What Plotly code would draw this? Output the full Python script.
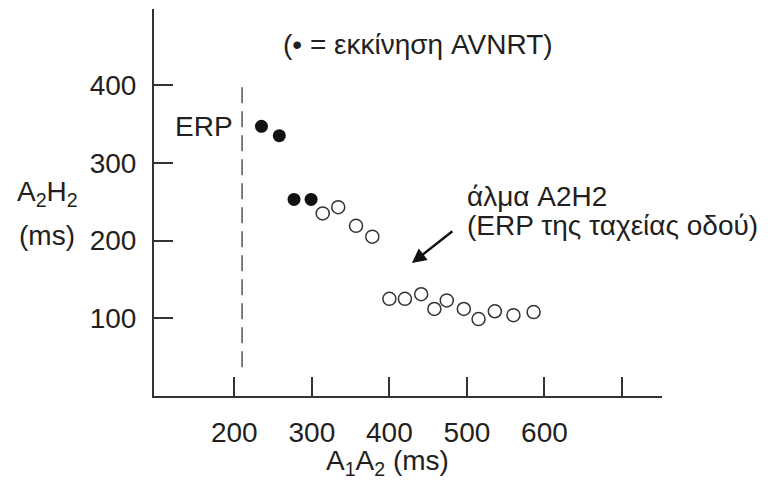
import plotly.graph_objects as go

# Data
a1a2_avnrt = [235, 258, 277, 299]
a2h2_avnrt = [347, 335, 253, 253]

a1a2_no = [314, 334, 357, 378, 400, 420, 441, 458, 474, 496, 515, 536, 560, 586]
a2h2_no = [235, 243, 219, 205, 125, 125, 131, 112, 123, 112, 99, 109, 104, 108]

erp_x = 210
x_ticks = [200, 300, 400, 500, 600, 700]
x_ticklabels = ["200", "300", "400", "500", "600", ""]
y_ticks = [100, 200, 300, 400]
y_ticklabels = ["100", "200", "300", "400"]

FONT = "Liberation Sans, Arial, Helvetica, sans-serif"
TXT = "#231f20"
AX = "#333333"
FS = 28

fig = go.Figure()
fig.add_trace(go.Scatter(
    x=a1a2_avnrt, y=a2h2_avnrt, mode="markers",
    marker=dict(size=13, color="#111111", line=dict(width=0)),
    showlegend=False, cliponaxis=False))
fig.add_trace(go.Scatter(
    x=a1a2_no, y=a2h2_no, mode="markers",
    marker=dict(size=13, color="white", line=dict(width=1.5, color="#333333")),
    showlegend=False, cliponaxis=False))

fig.add_shape(type="line", x0=erp_x, x1=erp_x, y0=37, y1=403, xref="x", yref="y",
              line=dict(color="#555555", width=1.5, dash="16px,8px"))

fig.update_layout(
    width=777, height=490,
    margin=dict(l=154, r=115, t=9, b=94),
    paper_bgcolor="white", plot_bgcolor="white",
    font=dict(family=FONT, size=FS, color=TXT),
    xaxis=dict(range=[96.4, 751.6], showgrid=False, zeroline=False,
               showline=True, linecolor=AX, linewidth=2,
               ticks="inside", ticklen=19, tickwidth=1.5, tickcolor=AX,
               tickvals=x_ticks, ticktext=x_ticklabels,
               ticklabelstandoff=10, tickfont=dict(size=FS, color=TXT)),
    yaxis=dict(range=[0, 498], showgrid=False, zeroline=False,
               showline=True, linecolor=AX, linewidth=2,
               ticks="inside", ticklen=19, tickwidth=1.5, tickcolor=AX,
               tickvals=y_ticks, ticktext=y_ticklabels,
               ticklabelstandoff=10, tickfont=dict(size=FS, color=TXT)),
)

ann = [
    dict(text="(• = εκκίνηση AVNRT)", x=437, y=452, xref="x", yref="y",
         xanchor="center", yanchor="middle", showarrow=False),
    dict(text="ERP", x=201, y=347, xref="x", yref="y",
         xanchor="right", yanchor="middle", showarrow=False),
    dict(text="άλμα A2H2", x=497, y=257, xref="x", yref="y",
         xanchor="left", yanchor="middle", showarrow=False),
    dict(text="(ERP της ταχείας οδού)", x=497, y=219, xref="x", yref="y",
         xanchor="left", yanchor="middle", showarrow=False),
    dict(text="", x=429, y=171, xref="x", yref="y", showarrow=True,
         ax=42, ay=-33, axref="pixel", ayref="pixel",
         arrowhead=2, arrowsize=1.2, arrowwidth=2.4, arrowcolor="#111111"),
    dict(text="A<sub>2</sub>H<sub>2</sub>", x=-0.21, y=0.5245, xref="paper", yref="paper",
         xanchor="center", yanchor="middle", showarrow=False),
    dict(text="(ms)", x=-0.21, y=0.416, xref="paper", yref="paper",
         xanchor="center", yanchor="middle", showarrow=False),
    dict(text="A<sub>1</sub>A<sub>2</sub> (ms)", x=0.4587, y=-0.173, xref="paper", yref="paper",
         xanchor="center", yanchor="middle", showarrow=False),
]
fig.update_layout(annotations=ann)

fig.write_html("out.html")
